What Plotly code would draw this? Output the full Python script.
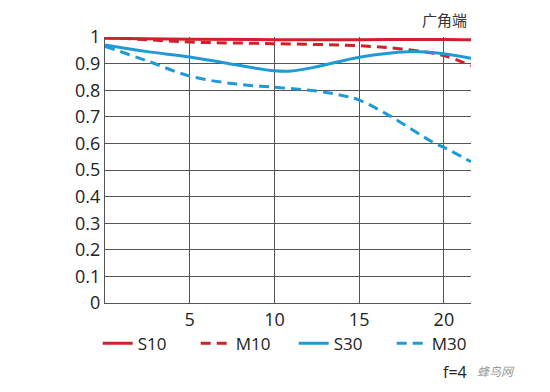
import plotly.graph_objects as go

# Data
x_s10 = [0, 5, 10, 15, 20, 21.6]
y_s10 = [0.995, 0.992, 0.99, 0.99, 0.991, 0.99]

x_m10 = [0, 2.5, 5, 10, 15, 17.5, 20, 21.6]
y_m10 = [0.998, 0.99, 0.981, 0.975, 0.967, 0.955, 0.93, 0.892]

x_s30 = [0, 2.5, 5, 7.2, 10, 11, 12.5, 15, 17.9, 20, 21.6]
y_s30 = [0.97, 0.945, 0.925, 0.901, 0.873, 0.872, 0.888, 0.924, 0.945, 0.937, 0.92]

x_m30 = [0, 2.5, 5, 7.5, 10, 12.5, 14, 15, 16.9, 19.3, 20, 21.6]
y_m30 = [0.965, 0.91, 0.853, 0.825, 0.811, 0.797, 0.78, 0.763, 0.70, 0.606, 0.585, 0.531]

x_ticks = [5, 10, 15, 20]
y_ticks = [0, 0.1, 0.2, 0.3, 0.4, 0.5, 0.6, 0.7, 0.8, 0.9, 1]

RED = "#d0202a"
BLUE = "#1e9ad6"
FONT = "Open Sans"

fig = go.Figure()
fig.add_trace(go.Scatter(x=x_s10, y=y_s10, name="S10", mode="lines",
                         line=dict(color=RED, width=3, shape="spline")))
fig.add_trace(go.Scatter(x=x_m10, y=y_m10, name="M10", mode="lines",
                         line=dict(color=RED, width=3, dash="10px,6px", shape="spline")))
fig.add_trace(go.Scatter(x=x_s30, y=y_s30, name="S30", mode="lines",
                         line=dict(color=BLUE, width=3, shape="spline")))
fig.add_trace(go.Scatter(x=x_m30, y=y_m30, name="M30", mode="lines",
                         line=dict(color=BLUE, width=3, dash="10px,6px", shape="spline")))

fig.update_layout(
    width=550, height=392,
    margin=dict(l=105, r=79, t=37, b=89),
    paper_bgcolor="white", plot_bgcolor="white",
    font=dict(family=FONT, size=18, color="#222"),
    showlegend=True,
    legend=dict(orientation="h", x=-0.02, y=-0.085, xanchor="left", yanchor="top",
                entrywidth=53, entrywidthmode="pixels",
                font=dict(family=FONT, size=17, color="#222"),
                bgcolor="rgba(0,0,0,0)", tracegroupgap=0),
    xaxis=dict(range=[0, 21.6], tickvals=x_ticks, showgrid=True,
               gridcolor="#555", gridwidth=1, showline=True, linecolor="#555",
               linewidth=1, zeroline=False, ticks="", fixedrange=True,
               tickfont=dict(size=18)),
    yaxis=dict(range=[0, 1], tickvals=y_ticks, showgrid=True,
               gridcolor="#555", gridwidth=1, showline=True, linecolor="#555",
               linewidth=1, zeroline=False, ticks="", fixedrange=True,
               tickfont=dict(size=18)),
    annotations=[
        dict(text="广角端", xref="paper", yref="paper", x=0.995, y=1.02,
             xanchor="right", yanchor="bottom", showarrow=False,
             font=dict(family="Noto Sans CJK SC", size=15, color="#333")),
        dict(text="f=4", xref="paper", yref="paper", x=0.995, y=-0.26,
             xanchor="right", yanchor="middle", showarrow=False,
             font=dict(family=FONT, size=16, color="#222")),
        dict(text="<i>蜂鸟网</i>", xref="paper", yref="paper", x=1.01, y=-0.255,
             xanchor="left", yanchor="middle", showarrow=False,
             font=dict(family="Noto Sans CJK SC", size=12, color="#999")),
    ],
)

fig.write_html("out.html", config={"displayModeBar": False},
               post_script="document.body.style.margin='0';")
